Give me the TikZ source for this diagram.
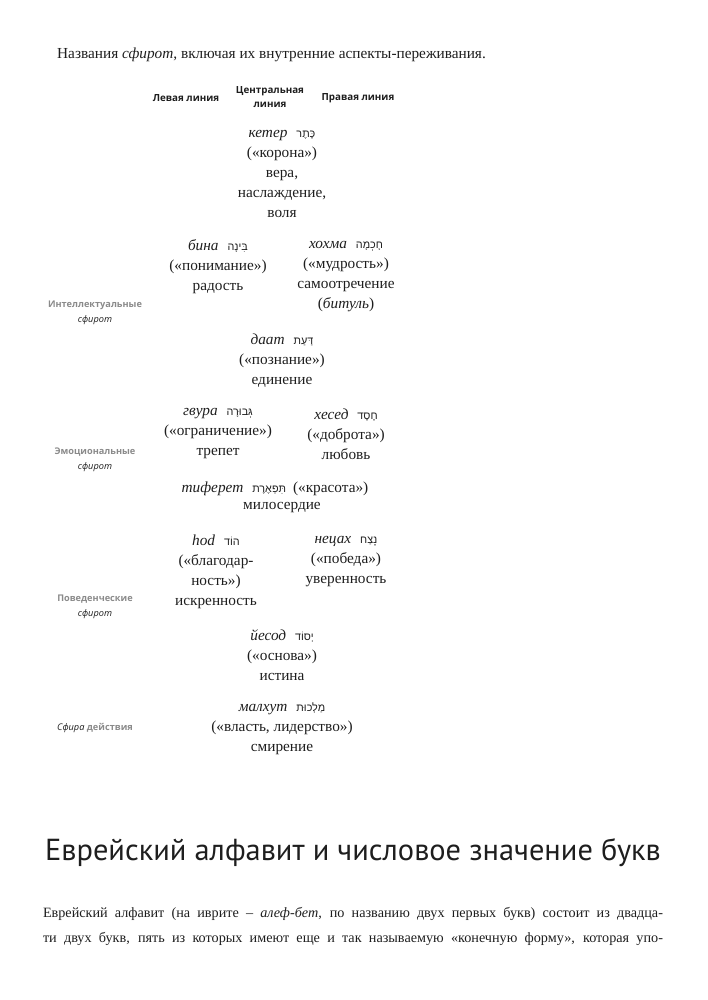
\documentclass[tikz,border=0pt]{standalone}
\usepackage{fontspec}
\setmainfont{Liberation Serif}
\newfontfamily\hebfont[Script=Hebrew]{Liberation Sans}
\newfontfamily\sansf{Open Sans}
\newfontfamily\titlef{PT Sans}
\TeXXeTstate=1
\newcommand{\hb}[1]{\hspace{9pt}{\hebfont\fontsize{10.8}{13}\selectfont\beginR #1\endR}}
\definecolor{sidegray}{HTML}{8A8A8A}
\definecolor{ink}{HTML}{1E1E1E}
\begin{document}
\begin{tikzpicture}[x=1pt,y=-1pt,
  body/.style={font=\fontsize{15.3}{20}\selectfont, align=center, inner sep=0pt, text=ink},
  hdr/.style={font=\sansf\bfseries\fontsize{9.8}{14}\selectfont, align=center, inner sep=0pt, text=ink},
  side/.style={font=\sansf\bfseries\fontsize{9.2}{15}\selectfont, align=center, inner sep=0pt, text=sidegray},
]
\useasboundingbox (0,0) rectangle (707,1000);

\node[body, anchor=west] (caption) at (57,55) {Названия \textit{сфирот}, включая их внутренние аспекты-переживания.};

\node[hdr] (left) at (186,98) {Левая линия};
\node[hdr] (center) at (270,97) {Центральная\\линия};
\node[hdr] (right) at (358,98) {Правая линия};

\node[body] (keter) at (282,174) {\textit{кетер}\hb{כֶּתֶר}\\(«корона»)\\вера,\\наслаждение,\\воля};
\node[body] (bina) at (218,267) {\textit{бина}\hb{בִּינָה}\\(«понимание»)\\радость};
\node[body] (hochma) at (346,277) {\textit{хохма}\hb{חָכְמָה}\\(«мудрость»)\\самоотречение\\(\textit{битуль})};
\node[side] (intel) at (95,313) {Интеллектуальные\\{\sansf\mdseries\itshape\color{ink}сфирот}};

\node[body] (daat) at (282,361) {\textit{даат}\hb{דַּעַת}\\(«познание»)\\единение};

\node[body] (gevura) at (218,434) {\textit{гвура}\hb{גְּבוּרָה}\\(«ограничение»)\\трепет};
\node[body] (hesed) at (346,434) {\textit{хесед}\hb{חֶסֶד}\\(«доброта»)\\любовь};
\node[side] (emo) at (95,460) {Эмоциональные\\{\sansf\mdseries\itshape\color{ink}сфирот}};

\node[body] (tiferet) at (275,489) {\textit{тиферет}\hb{תִּפְאֶרֶת}\hspace{7pt}(«красота»)};
\node[body] (tiferetb) at (282,508) {милосердие};

\node[body] (hod) at (216,572) {\textit{hod}\hb{הוֹד}\\(«благодар-\\ность»)\\искренность};
\node[body] (netzach) at (346,562) {\textit{нецах}\hb{נֶצַח}\\(«победа»)\\уверенность};
\node[side] (beh) at (95,607) {Поведенческие\\{\sansf\mdseries\itshape\color{ink}сфирот}};

\node[body] (yesod) at (282,655) {\textit{йесод}\hb{יְסוֹד}\\(«основа»)\\истина};

\node[body] (malchut) at (282,729) {\textit{малхут}\hb{מַלְכוּת}\\(«власть, лидерство»)\\смирение};
\node[side] (action) at (95,728) {{\sansf\mdseries\itshape\color{ink}Сфира} действия};

\node[inner sep=0pt, text=ink, font=\titlef\fontsize{30.4}{34}\selectfont] (title) at (353,853) {Еврейский алфавит и числовое значение букв};

\node[inner sep=0pt, text=ink, font=\fontsize{14.2}{25}\selectfont, align=left] (para) at (353,926) {%
\makebox[620pt][s]{Еврейский алфавит (на иврите – \textit{алеф-бет}, по названию двух первых букв) состоит из двадца-}\\
\makebox[620pt][s]{ти двух букв, пять из которых имеют еще и так называемую «конечную форму», которая упо-}};
\end{tikzpicture}
\end{document}
